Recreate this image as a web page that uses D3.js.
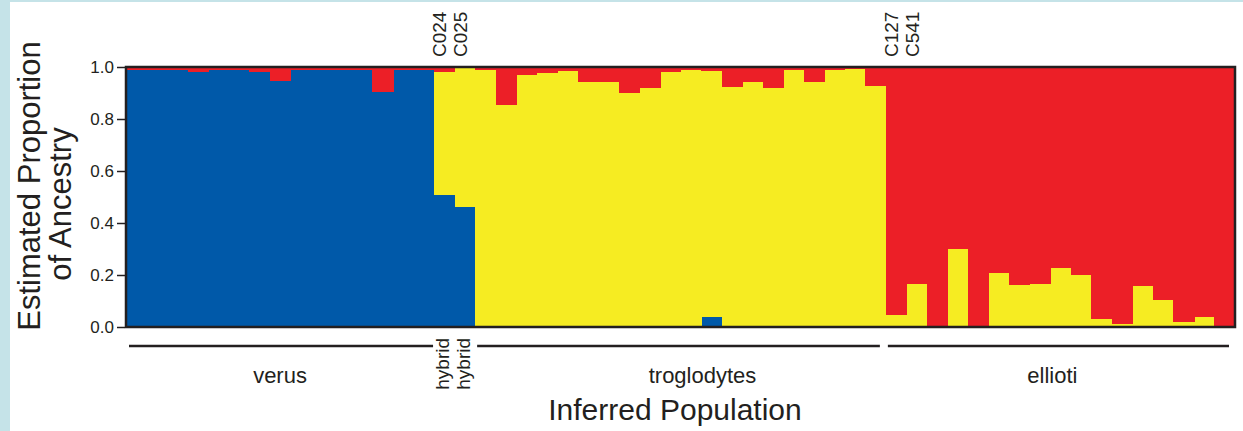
<!DOCTYPE html>
<html>
<head>
<meta charset="utf-8">
<script src="https://cdn.jsdelivr.net/npm/d3@7"></script>
<style>
  html, body { margin: 0; padding: 0; background: #ffffff; }
  svg { display: block; font-family: "Liberation Sans", Arial, Helvetica, sans-serif; }
</style>
</head>
<body>
<svg id="chart" width="1243" height="431"></svg>
<script>
// ---------- data ----------
const groupNames = ["verus", "hybrid", "hybrid", "troglodytes", "ellioti"];
const groupSizes = [15, 1, 1, 20, 17];

// sample labels printed above the plot (empty = unlabeled)
const sampleLabels = [
  "", "", "", "", "", "", "", "", "", "", "", "", "", "", "",
  "C024", "C025",
  "", "", "", "", "", "", "", "", "", "", "", "", "", "", "", "", "", "", "", "",
  "C127", "C541", "", "", "", "", "", "", "", "", "", "", "", "", "", ""
];

// estimated proportions of ancestry per individual
const blueAnc = [
  0.99, 0.99, 0.99, 0.98, 0.988, 0.988, 0.98, 0.948, 0.99, 0.99, 0.988, 0.988, 0.903, 0.99, 0.99,
  0.508, 0.46,
  0, 0, 0, 0, 0, 0, 0, 0, 0, 0, 0, 0.037, 0, 0, 0, 0, 0, 0, 0, 0,
  0, 0, 0, 0, 0, 0, 0, 0, 0, 0, 0, 0, 0, 0, 0, 0, 0
];
const yellowAnc = [
  0, 0, 0, 0, 0, 0, 0, 0, 0, 0, 0, 0, 0, 0, 0,
  0.472, 0.535,
  0.989, 0.854, 0.968, 0.978, 0.985, 0.944, 0.943, 0.90, 0.918, 0.982, 0.988, 0.948, 0.922, 0.941, 0.92, 0.988, 0.944, 0.988, 0.991, 0.928,
  0.045, 0.165, 0, 0.30, 0, 0.208, 0.16, 0.165, 0.228, 0.20, 0.031, 0.01, 0.158, 0.104, 0.018, 0.038, 0
];
const redAnc = [
  0.01, 0.01, 0.01, 0.02, 0.012, 0.012, 0.02, 0.052, 0.01, 0.01, 0.012, 0.012, 0.097, 0.01, 0.01,
  0.02, 0.005,
  0.011, 0.146, 0.032, 0.022, 0.015, 0.056, 0.057, 0.10, 0.082, 0.018, 0.012, 0.015, 0.078, 0.059, 0.08, 0.012, 0.056, 0.012, 0.009, 0.072,
  0.955, 0.835, 1, 0.70, 1, 0.792, 0.84, 0.835, 0.772, 0.80, 0.969, 0.99, 0.842, 0.896, 0.982, 0.962, 1
];

const yTicks = [0, 0.2, 0.4, 0.6, 0.8, 1.0];
const clusterKeys = ["blue", "yellow", "red"];
const clusterColors = ["#0059a9", "#f6ec22", "#ec1f27"];

// ---------- layout ----------
const svg = d3.select("#chart");
const W = 1243, H = 431;
const plot = { left: 126, right: 1235, top: 67, bottom: 327 };
const ink = "#231f20";

svg.append("rect").attr("x", 0).attr("y", 0).attr("width", W).attr("height", H).attr("fill", "#ffffff");
svg.append("rect").attr("x", 0).attr("y", 0).attr("width", 10).attr("height", H).attr("fill", "#c5e3e8");
svg.append("rect").attr("x", 0).attr("y", 0).attr("width", W).attr("height", 2).attr("fill", "#c5e3e8");

const rows = blueAnc.map((b, i) => ({ idx: i, blue: b, yellow: yellowAnc[i], red: redAnc[i] }));

const x = d3.scaleBand().domain(rows.map(r => r.idx)).range([plot.left, plot.right]).padding(0);
const y = d3.scaleLinear().domain([0, 1]).range([plot.bottom, plot.top]);
const color = d3.scaleOrdinal().domain(clusterKeys).range(clusterColors);

const stacked = d3.stack().keys(clusterKeys)(rows);

svg.append("g").selectAll("g").data(stacked).join("g")
  .attr("fill", d => color(d.key))
  .selectAll("rect").data(d => d).join("rect")
  .attr("x", d => x(d.data.idx))
  .attr("width", x.bandwidth() + 0.6)
  .attr("y", d => y(Math.min(1, d[1])))
  .attr("height", d => Math.max(0, y(d[0]) - y(Math.min(1, d[1]))))
  .attr("shape-rendering", "crispEdges");

// frame
svg.append("rect")
  .attr("x", plot.left).attr("y", plot.top)
  .attr("width", plot.right - plot.left).attr("height", plot.bottom - plot.top)
  .attr("fill", "none").attr("stroke", ink).attr("stroke-width", 2.5);

// y axis
const yAxis = svg.append("g")
  .attr("transform", `translate(${plot.left - 1},0)`)
  .call(d3.axisLeft(y).tickValues(yTicks).tickFormat(d3.format(".1f")).tickSize(8).tickPadding(3));
yAxis.select(".domain").remove();
yAxis.selectAll(".tick line").attr("stroke", ink).attr("stroke-width", 1.5);
yAxis.selectAll(".tick text").attr("fill", ink).attr("font-size", 17)
  .attr("font-family", "'Liberation Sans', Arial, sans-serif");

// y title
const yTitle = svg.append("g").attr("fill", ink).attr("font-size", 31);
yTitle.append("text").attr("transform", "translate(40,186) rotate(-90)")
  .attr("text-anchor", "middle").text("Estimated Proportion");
yTitle.append("text").attr("transform", "translate(71,204) rotate(-90)")
  .attr("text-anchor", "middle").text("of Ancestry");

// sample labels above
svg.append("g").selectAll("text").data(rows.filter(r => sampleLabels[r.idx] !== "")).join("text")
  .attr("transform", d => `translate(${x(d.idx) + x.bandwidth() / 2 + 2},57) rotate(-90)`)
  .attr("text-anchor", "start").attr("font-size", 19).attr("fill", ink)
  .text(d => sampleLabels[d.idx]);

// group lines and labels
let start = 0;
const groups = groupNames.map((g, i) => {
  const s = start; start += groupSizes[i];
  return { name: g, first: s, last: s + groupSizes[i] - 1, size: groupSizes[i] };
});
const gx0 = g => x(g.first), gx1 = g => x(g.last) + x.bandwidth();

const bigGroups = groups.filter(g => g.size > 1);
svg.append("g").selectAll("line").data(bigGroups).join("line")
  .attr("x1", d => gx0(d) + (d.name === "verus" ? 3 : 2))
  .attr("x2", d => gx1(d) - (d.name === "verus" ? 1 : 6))
  .attr("y1", 346).attr("y2", 346)
  .attr("stroke", ink).attr("stroke-width", 2.5);

svg.append("g").selectAll("text").data(bigGroups).join("text")
  .attr("x", d => (gx0(d) + gx1(d)) / 2 + (d.name === "troglodytes" ? 22 : (d.name === "ellioti" ? -8 : 0)))
  .attr("y", 383).attr("text-anchor", "middle").attr("font-size", 22).attr("fill", ink)
  .text(d => d.name);

svg.append("g").selectAll("text").data(groups.filter(g => g.size === 1)).join("text")
  .attr("transform", d => `translate(${(gx0(d) + gx1(d)) / 2 + 5},338) rotate(-90)`)
  .attr("text-anchor", "end").attr("font-size", 19).attr("fill", ink)
  .text(d => d.name);

// x title
svg.append("text").attr("x", 675).attr("y", 420).attr("text-anchor", "middle")
  .attr("font-size", 30).attr("fill", ink).text("Inferred Population");
</script>
</body>
</html>
